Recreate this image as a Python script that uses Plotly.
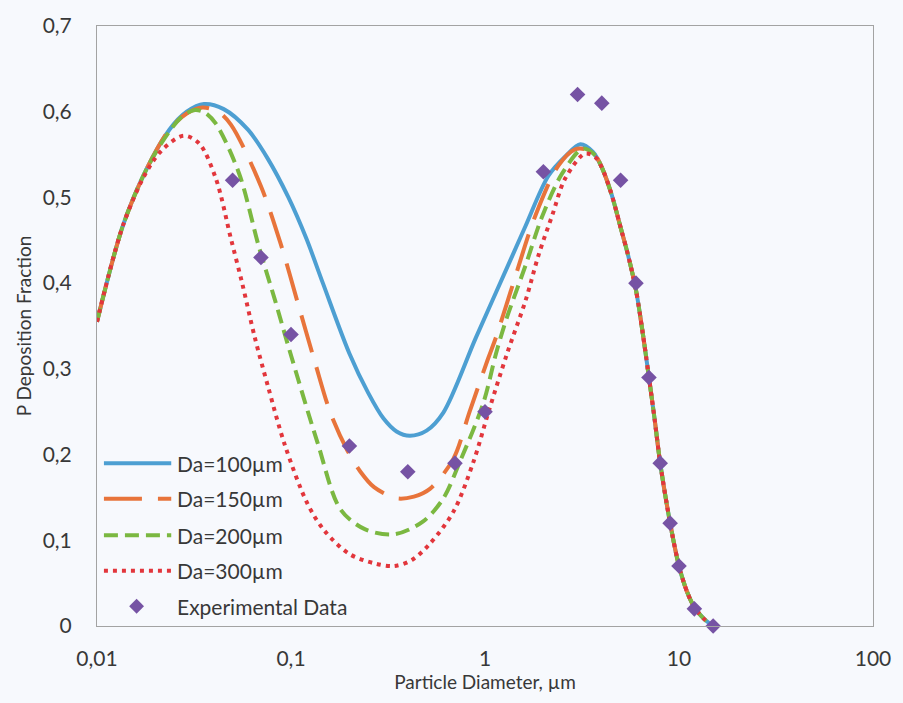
import plotly.graph_objects as go

# Particle diameter (µm) and deposition fraction for each airway diameter Da
da100_d = [0.01, 0.0136, 0.018, 0.0236, 0.029, 0.0356, 0.045, 0.06, 0.076, 0.097, 0.12, 0.146,
           0.2, 0.25, 0.3, 0.35, 0.41, 0.5, 0.61, 0.9, 1.39, 1.62, 2.12, 2.6, 3.1, 3.6, 4.0, 4.5,
           5.0, 5.5, 6.0, 6.5, 7.0, 7.5, 8.0, 9.0, 10, 11, 12, 13.5, 15]
da100_f = [0.355, 0.467, 0.533, 0.579, 0.600, 0.609, 0.603, 0.579, 0.545, 0.500, 0.452, 0.400,
           0.318, 0.272, 0.242, 0.227, 0.222, 0.228, 0.249, 0.337, 0.433, 0.467, 0.525, 0.548,
           0.562, 0.553, 0.535, 0.503, 0.465, 0.43, 0.392, 0.342, 0.29, 0.24, 0.19, 0.12, 0.07,
           0.04, 0.022, 0.008, 0.0]

da150_d = [0.01, 0.0136, 0.018, 0.0236, 0.029, 0.035, 0.042, 0.049, 0.07, 0.089, 0.109, 0.132,
           0.16, 0.195, 0.228, 0.268, 0.35, 0.43, 0.52, 0.687, 0.83, 1.03, 1.14, 1.39, 1.82, 2.39,
           2.91, 3.3, 3.7, 4.0, 4.5, 5.0, 5.5, 6.0, 6.5, 7.0, 7.5, 8.0, 9.0, 10, 11, 12, 13.5, 15]
da150_f = [0.355, 0.467, 0.533, 0.579, 0.598, 0.605, 0.600, 0.585, 0.513, 0.444, 0.375, 0.310,
           0.248, 0.205, 0.180, 0.162, 0.149, 0.151, 0.160, 0.195, 0.249, 0.310, 0.337, 0.398,
           0.479, 0.537, 0.556, 0.556, 0.549, 0.535, 0.503, 0.465, 0.43, 0.392, 0.342, 0.29,
           0.24, 0.19, 0.12, 0.07, 0.04, 0.022, 0.008, 0.0]

da200_d = [0.01, 0.0136, 0.018, 0.0236, 0.028, 0.032, 0.036, 0.041, 0.054, 0.068, 0.083, 0.097,
           0.137, 0.18, 0.24, 0.34, 0.48, 0.61, 0.74, 0.98, 1.14, 1.28, 1.62, 1.98, 2.5, 3.2,
           3.7, 4.0, 4.5, 5.0, 5.5, 6.0, 6.5, 7.0, 7.5, 8.0, 9.0, 10, 11, 12, 13.5, 15]
da200_f = [0.355, 0.467, 0.533, 0.577, 0.596, 0.602, 0.599, 0.586, 0.528, 0.444, 0.379, 0.326,
           0.214, 0.136, 0.113, 0.107, 0.122, 0.149, 0.191, 0.26, 0.318, 0.356, 0.421, 0.479,
           0.528, 0.557, 0.549, 0.535, 0.503, 0.465, 0.43, 0.392, 0.342, 0.29, 0.24, 0.19,
           0.12, 0.07, 0.04, 0.022, 0.008, 0.0]

da300_d = [0.01, 0.0136, 0.018, 0.022, 0.028, 0.0336, 0.041, 0.049, 0.056, 0.065, 0.076, 0.093,
           0.122, 0.149, 0.2, 0.27, 0.34, 0.42, 0.52, 0.69, 0.87, 1.05, 1.3, 1.62, 1.89, 2.22,
           2.59, 3.27, 3.7, 4.0, 4.5, 5.0, 5.5, 6.0, 6.5, 7.0, 7.5, 8.0, 9.0, 10, 11, 12, 13.5, 15]
da300_f = [0.355, 0.467, 0.530, 0.557, 0.572, 0.563, 0.522, 0.452, 0.400, 0.337, 0.280, 0.211,
           0.142, 0.111, 0.084, 0.073, 0.070, 0.077, 0.096, 0.134, 0.191, 0.252, 0.318, 0.38,
           0.433, 0.479, 0.522, 0.551, 0.547, 0.535, 0.503, 0.465, 0.43, 0.392, 0.342, 0.29,
           0.24, 0.19, 0.12, 0.07, 0.04, 0.022, 0.008, 0.0]

exp_d = [0.05, 0.07, 0.1, 0.2, 0.4, 0.7, 1, 2, 3, 4, 5, 6, 7, 8, 9, 10, 12, 15]
exp_f = [0.52, 0.43, 0.34, 0.21, 0.18, 0.19, 0.25, 0.53, 0.62, 0.61, 0.52, 0.40, 0.29, 0.19,
         0.12, 0.07, 0.02, 0.0]

x_ticks = [0.01, 0.1, 1, 10, 100]
x_tick_text = ["0,01", "0,1", "1", "10", "100"]
y_ticks = [0, 0.1, 0.2, 0.3, 0.4, 0.5, 0.6, 0.7]
y_tick_text = ["0", "0,1", "0,2", "0,3", "0,4", "0,5", "0,6", "0,7"]

FONT = "Lato, 'Open Sans', sans-serif"
TEXT = "#383838"
BG = "#f7f9fd"

curves = [
    ("Da=100µm", da100_d, da100_f, "#4d9fd2", "solid"),
    ("Da=150µm", da150_d, da150_f, "#e8743b", "38px,16px"),
    ("Da=200µm", da200_d, da200_f, "#7bb841", "14px,7px"),
    ("Da=300µm", da300_d, da300_f, "#e2363c", "4px,5px"),
]
marker_color = "#7653a4"

fig = go.Figure()
for name, d, f, color, dash in curves:
    fig.add_trace(go.Scatter(
        x=d, y=f, mode="lines", name=name,
        line=dict(color=color, width=4, dash=dash, shape="spline", smoothing=0.9),
        showlegend=False,
    ))
fig.add_trace(go.Scatter(
    x=exp_d, y=exp_f, mode="markers", name="Experimental Data",
    marker=dict(symbol="diamond", size=12, color=marker_color),
    showlegend=False, cliponaxis=False,
))

# Hand-built legend in the lower-left corner of the plot area
W, H = 784.0, 608.0                 # plot area size in px
row_y = [461, 497, 534, 570, 606]   # row centres, px from top of figure
LEG_FONT = dict(family=FONT, size=21, color=TEXT)
shapes, annotations = [], []
for i, (name, d, f, color, dash) in enumerate(curves):
    yp = (626 - row_y[i]) / H
    shapes.append(dict(type="line", xref="paper", yref="paper",
                       x0=(104 - 97) / W, x1=(172 - 97) / W, y0=yp, y1=yp,
                       line=dict(color=color, width=4, dash=dash)))
    annotations.append(dict(text=name, xref="paper", yref="paper",
                            x=(176 - 97) / W, y=yp, xanchor="left", yanchor="middle",
                            showarrow=False, font=LEG_FONT))
yp = (626 - row_y[4]) / H
cx, hx, hy = (137 - 97) / W, 7.5 / W, 7.5 / H
shapes.append(dict(type="path", xref="paper", yref="paper",
                   path=f"M {cx - hx} {yp} L {cx} {yp + hy} L {cx + hx} {yp} L {cx} {yp - hy} Z",
                   fillcolor=marker_color, line=dict(width=0)))
annotations.append(dict(text="Experimental Data", xref="paper", yref="paper",
                        x=(176 - 97) / W, y=yp, xanchor="left", yanchor="middle",
                        showarrow=False, font=LEG_FONT))

axis_common = dict(showgrid=False, zeroline=False, showline=True, mirror=True,
                   linecolor="#a3a3a3", linewidth=1, ticks="",
                   tickfont=dict(family=FONT, size=21, color=TEXT))

fig.update_layout(
    width=903, height=703,
    margin=dict(l=97, r=22, t=18, b=77),
    paper_bgcolor=BG, plot_bgcolor=BG,
    font=dict(family=FONT, color=TEXT),
    shapes=shapes, annotations=annotations,
    xaxis=dict(type="log", range=[-2, 2], tickvals=x_ticks, ticktext=x_tick_text,
               ticklabelstandoff=14,
               title=dict(text="Particle Diameter, µm", standoff=6,
                          font=dict(family=FONT, size=19, color=TEXT)),
               **axis_common),
    yaxis=dict(range=[0, 0.7], tickvals=y_ticks, ticktext=y_tick_text,
               ticklabelstandoff=20,
               title=dict(text="P Deposition Fraction", standoff=6,
                          font=dict(family=FONT, size=19, color=TEXT)),
               **axis_common),
)

fig.write_html("out.html")
